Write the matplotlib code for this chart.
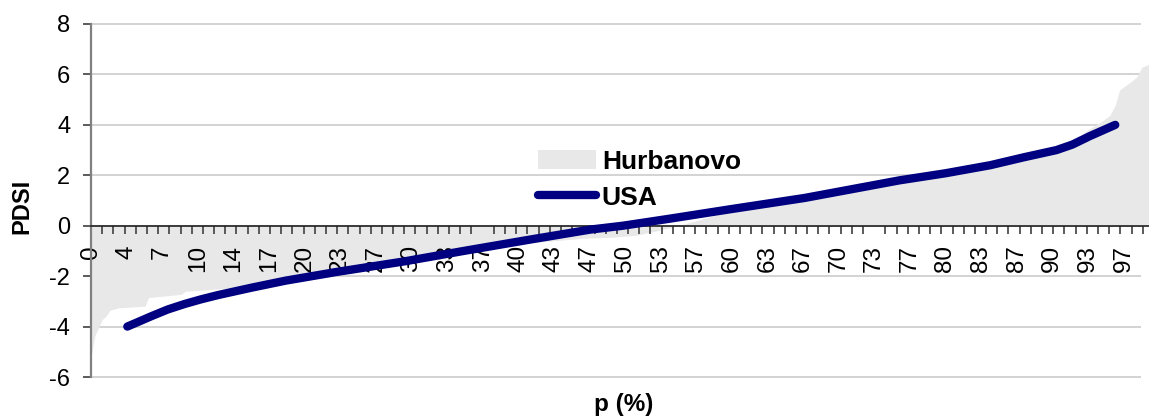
import numpy as np
import matplotlib
matplotlib.use("Agg")
import matplotlib.pyplot as plt

plt.rcParams['font.family'] = ['Liberation Sans', 'DejaVu Sans']

# tick labels on the category axis (percent)
x_labels = ['0', '4', '7', '10', '14', '17', '20', '23', '27', '30',
            '33', '37', '40', '43', '47', '50', '53', '57', '60', '63',
            '67', '70', '73', '77', '80', '83', '87', '90', '93', '97']

# Hurbanovo - sorted PDSI (area)
hurb_p = [0.0, 0.07, 0.22, 0.37, 0.68, 1.0, 1.47, 1.78, 2.56, 5.06, 5.37, 8.49,
          8.8, 12.5, 18.0, 25.0, 30.0, 35.0, 41.0, 46.0, 49.0, 51.0, 53.0, 55.0,
          60.0, 67.0, 76.0, 84.0, 87.3, 90.4, 92.0, 93.3, 94.5, 95.4, 95.9, 96.3,
          97.3, 97.9, 98.4, 99.06]
hurb_v = [-4.9, -5.07, -4.68, -4.35, -4.08, -3.75, -3.55, -3.35, -3.26, -3.19,
          -2.85, -2.72, -2.6, -2.49, -2.3, -1.85, -1.45, -1.1, -0.68, -0.5,
          -0.45, -0.38, -0.2, 0.0, 0.6, 1.05, 1.75, 2.35, 2.65, 2.95, 3.35,
          3.79, 4.1, 4.38, 4.78, 5.38, 5.69, 5.89, 6.29, 6.4]

# USA - PDSI percentile curve
usa_p = [3.4, 4.5, 5.7, 7.2, 8.8, 10.3, 11.9, 15.0, 18.2, 22.9, 29.4, 34.9,
         41.1, 46.8, 49.8, 54.2, 59.8, 66.8, 75.7, 80.0, 84.2, 87.3, 90.4,
         91.9, 93.5, 95.9]
usa_v = [-4.0, -3.8, -3.58, -3.32, -3.1, -2.92, -2.75, -2.46, -2.18, -1.84,
         -1.41, -1.0, -0.55, -0.15, 0.0, 0.28, 0.65, 1.1, 1.8, 2.08, 2.4,
         2.71, 3.0, 3.22, 3.55, 4.0]

fig = plt.figure(figsize=(11.49, 4.18), dpi=100)
ax = fig.add_axes([91 / 1149, 1 - 377 / 418, 1 - 91 / 1149, (377 - 24) / 418])

ax.set_xlim(0, 99.06)
ax.set_ylim(-6, 8)

yt = np.arange(-6, 9, 2)
ax.hlines(yt, 0, 98.3, color='#cccccc', lw=1.2, zorder=0, clip_on=False)

ax.fill_between(hurb_p, 0, hurb_v, color='#e8e8e8', lw=0, zorder=1,
                label='Hurbanovo')
ax.plot(usa_p, usa_v, color='#000080', lw=6, solid_capstyle='round',
        solid_joinstyle='round', zorder=3, label='USA')

for s in ['top', 'right']:
    ax.spines[s].set_visible(False)
ax.spines['bottom'].set_position(('data', 0))
ax.spines['bottom'].set_color('#202020')
ax.spines['bottom'].set_linewidth(1.2)
ax.spines['bottom'].set_zorder(2.5)
ax.spines['left'].set_color('#808080')
ax.spines['left'].set_linewidth(1.6)

ax.set_yticks(yt)
ax.set_yticklabels([str(v) for v in yt])
ax.tick_params(axis='y', direction='out', length=6, width=1.2,
               color='#404040', labelsize=17, pad=9)

ax.set_xticks(np.arange(len(x_labels)) * 10 / 3)
ax.set_xticklabels(x_labels, rotation=90)
ax.set_xticks(np.arange(0, 98.5, 10 / 3 * 11 / 35), minor=True)
ax.tick_params(axis='x', which='major', length=0, labelsize=17.5, pad=14)
ax.tick_params(axis='x', which='minor', direction='out', length=6,
               width=1.2, color='#404040')

fig.text(22 / 1149, 1 - 206 / 418, 'PDSI', rotation=90, fontsize=17,
         fontweight='bold', ha='center', va='center')
fig.text(624 / 1149, 1 - 405 / 418, 'p (%)', fontsize=17.5,
         fontweight='bold', ha='center', va='center')

leg = ax.legend(loc='upper left', bbox_to_anchor=(538 / 1149, 1 - 150 / 418),
                bbox_transform=fig.transFigure, frameon=False,
                prop={'weight': 'bold', 'size': 19}, borderpad=0,
                handlelength=2.2, handleheight=0.75, handletextpad=0.22,
                labelspacing=0.45, borderaxespad=0)

fig.savefig('out.png', dpi=100)
